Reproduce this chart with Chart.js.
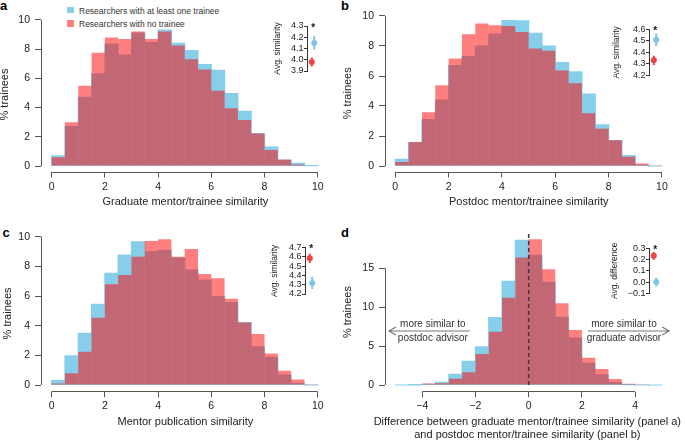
<!DOCTYPE html>
<html>
<head>
<meta charset="utf-8">
<script src="https://cdn.jsdelivr.net/npm/chart.js@4.4.1/dist/chart.umd.min.js"></script>
<style>
body { margin: 0; background: #fff; }
#wrap { position: relative; width: 685px; height: 442px; overflow: hidden; font-family: "Liberation Sans", Arial, sans-serif; }
#wrap canvas { position: absolute; }
.tag { position: absolute; font-weight: bold; font-size: 13px; line-height: 13px; color: #000; }
.sw { position: absolute; left: 67px; width: 7px; height: 6.5px; }
.key { position: absolute; left: 79px; font-size: 8.5px; line-height: 10px; color: #333; white-space: nowrap; }
</style>
</head>
<body>
<div id="wrap">
  <div class="tag" style="left:0px;top:-1px">a</div>
  <div class="tag" style="left:341px;top:-1px">b</div>
  <div class="tag" style="left:2.5px;top:225.5px">c</div>
  <div class="tag" style="left:341px;top:226px">d</div>
  <div class="sw" style="top:6.5px;background:#87CEEB"></div>
  <div class="key" style="top:6.3px">Researchers with at least one trainee</div>
  <div class="sw" style="top:20px;background:rgba(255,0,0,0.5)"></div>
  <div class="key" style="top:19.3px">Researchers with no trainee</div>
</div>
<script>
// bin centres (bins are 0.5 wide)
const simBins = [0.25, 0.75, 1.25, 1.75, 2.25, 2.75, 3.25, 3.75, 4.25, 4.75,
                 5.25, 5.75, 6.25, 6.75, 7.25, 7.75, 8.25, 8.75, 9.25, 9.75];
const diffBins = [-4.75, -4.25, -3.75, -3.25, -2.75, -2.25, -1.75, -1.25, -0.75, -0.25,
                  0.25, 0.75, 1.25, 1.75, 2.25, 2.75, 3.25, 3.75, 4.25, 4.75];

// % trainees: researchers with at least one trainee / with no trainee
const gradWith    = [0.7, 2.7, 4.7, 6.3, 8.35, 7.6, 9.1, 8.45, 9.3, 8.4, 7.9, 6.95, 6.55, 4.95, 3.75, 2.22, 1.3, 0.38, 0.18, 0.03];
const gradWithout = [0.6, 3.0, 5.5, 7.75, 8.8, 8.7, 9.2, 8.7, 9.2, 8.25, 7.3, 6.6, 5.15, 3.95, 3.15, 2.22, 1.1, 0.45, 0.1, 0.0];
const postWith    = [0.45, 1.55, 3.1, 4.4, 6.7, 7.3, 8.0, 8.8, 9.7, 9.67, 8.85, 8.0, 6.9, 6.27, 4.8, 2.75, 1.7, 0.7, 0.04, 0.0];
const postWithout = [0.27, 1.6, 3.58, 5.38, 7.16, 8.78, 9.5, 9.38, 9.33, 8.93, 7.84, 7.69, 6.36, 5.51, 3.51, 2.49, 1.72, 0.62, 0.16, 0.02];
const pubWith     = [0.29, 1.96, 3.48, 5.44, 7.53, 8.76, 9.66, 8.97, 9.08, 8.56, 7.75, 7.08, 5.96, 5.55, 4.2, 2.58, 1.87, 0.67, 0.11, 0.0];
const pubWithout  = [0.11, 0.79, 2.25, 4.54, 6.79, 7.42, 8.65, 9.71, 9.82, 8.65, 9.17, 7.48, 7.19, 5.82, 4.22, 3.44, 2.13, 0.97, 0.38, 0.02];
const diffWith    = [0.0, 0.02, 0.1, 0.34, 1.37, 3.04, 4.89, 8.66, 13.33, 18.6, 16.67, 13.2, 8.7, 6.04, 2.79, 1.29, 0.3, 0.04, 0.0, 0.0];
const diffWithout = [0.0, 0.05, 0.2, 0.21, 0.81, 1.63, 3.99, 6.86, 11.23, 16.4, 18.73, 14.87, 10.5, 7.07, 3.51, 2.06, 0.77, 0.17, 0.02, 0.0];

// tick labels
const simTicks = [0, 2, 4, 6, 8, 10];
const pctTicks = [0, 2, 4, 6, 8, 10];
const diffTicks = [-4, -2, 0, 2, 4];
const diffPctTicks = [0, 5, 10, 15];

// inset averages [with trainee, no trainee] and error bar half-widths
const gradAvg = [4.15, 3.98],  gradErr = [0.06, 0.04];
const postAvg = [4.51, 4.33],  postErr = [0.055, 0.04];
const pubAvg  = [4.32, 4.585], pubErr  = [0.065, 0.05];
const diffAvg = [0.0, 0.233],  diffErr = [0.04, 0.035];
const gradAvgTicks = [3.9, 4.0, 4.1, 4.2, 4.3];
const postAvgTicks = [4.2, 4.3, 4.4, 4.5, 4.6];
const pubAvgTicks  = [4.2, 4.3, 4.4, 4.5, 4.6, 4.7];
const diffAvgTicks = [-0.1, 0.0, 0.1, 0.2, 0.3];

const BLUE = '#87CEEB';
const RED = 'rgba(255,0,0,0.5)';
const BLUE_DOT = '#7cc6e8';
const RED_DOT = '#f04444';
const AXIS = '#555';
const INK = '#222';

Chart.defaults.font.family = '"Liberation Sans", Arial, sans-serif';

const minus = v => String(v).replace('-', '\u2212');

// R style axes: line only from first to last tick
const rAxes = {
    id: 'rAxes',
    afterDraw(chart) {
        const {ctx, chartArea: a, scales: {x, y}} = chart;
        const by = Math.floor(a.bottom) + 0.5;
        const lx = Math.floor(a.left) + 0.5;
        ctx.save();
        ctx.strokeStyle = AXIS;
        ctx.lineWidth = 1;
        ctx.beginPath();
        ctx.moveTo(x.getPixelForValue(x.ticks[0].value), by);
        ctx.lineTo(x.getPixelForValue(x.ticks[x.ticks.length - 1].value), by);
        ctx.moveTo(lx, y.getPixelForValue(y.ticks[0].value));
        ctx.lineTo(lx, y.getPixelForValue(y.ticks[y.ticks.length - 1].value));
        ctx.stroke();
        ctx.restore();
    }
};

// panel d: zero line, arrows and two-line axis title
const diffNotes = {
    id: 'diffNotes',
    afterDatasetsDraw(chart) {
        const {ctx, chartArea: a, scales: {x, y}} = chart;
        ctx.save();
        ctx.setLineDash([4, 3]);
        ctx.strokeStyle = '#463238';
        ctx.lineWidth = 1.5;
        ctx.beginPath();
        ctx.moveTo(x.getPixelForValue(0), y.getPixelForValue(0));
        ctx.lineTo(x.getPixelForValue(0), a.top);
        ctx.stroke();
        ctx.restore();
    },
    afterDraw(chart) {
        const {ctx, scales: {x, y}} = chart;
        const notes = [
            {from: -2.22, to: -5.25, tx: -3.6, lines: ['more similar to', 'postdoc advisor']},
            {from: 2.23, to: 5.28, tx: 3.58, lines: ['more similar to', 'graduate advisor']}
        ];
        const ay = y.getPixelForValue(6.94);
        ctx.save();
        notes.forEach(n => {
            const x1 = x.getPixelForValue(n.from), x2 = x.getPixelForValue(n.to);
            const dir = x2 > x1 ? 1 : -1;
            ctx.strokeStyle = '#777';
            ctx.lineWidth = 1.2;
            ctx.beginPath();
            ctx.moveTo(x1, ay);
            ctx.lineTo(x2, ay);
            ctx.moveTo(x2 - dir * 7, ay - 4);
            ctx.lineTo(x2, ay);
            ctx.lineTo(x2 - dir * 7, ay + 4);
            ctx.stroke();
            ctx.fillStyle = '#333';
            ctx.font = '10px "Liberation Sans", Arial, sans-serif';
            ctx.textAlign = 'center';
            ctx.textBaseline = 'middle';
            ctx.fillText(n.lines[0], x.getPixelForValue(n.tx), y.getPixelForValue(7.84));
            ctx.fillText(n.lines[1], x.getPixelForValue(n.tx), y.getPixelForValue(6.0));
        });
        ctx.fillStyle = INK;
        ctx.font = '11px "Liberation Sans", Arial, sans-serif';
        const cx = x.getPixelForValue(-0.05);
        ctx.fillText('Difference between graduate mentor/trainee similarity (panel a)', cx, chart.height - 20.3);
        ctx.fillText('and postdoc mentor/trainee similarity (panel b)', cx, chart.height - 7);
        ctx.restore();
    }
};

// inset star
const star = {
    id: 'star',
    afterDraw(chart) {
        const {ctx, chartArea: a, scales: {x}} = chart;
        ctx.save();
        ctx.fillStyle = '#111';
        ctx.font = 'bold 10px "Liberation Sans", Arial, sans-serif';
        ctx.textAlign = 'center';
        ctx.textBaseline = 'top';
        ctx.fillText('*', x.getPixelForValue(0.38), a.top - 3);
        ctx.restore();
    }
};

function addCanvas(left, top, w, h) {
    const c = document.createElement('canvas');
    c.width = w;
    c.height = h;
    c.style.left = left + 'px';
    c.style.top = top + 'px';
    c.style.width = w + 'px';
    c.style.height = h + 'px';
    document.getElementById('wrap').appendChild(c);
    return c;
}

function makePanel(p, bins, withVals, withoutVals, xTicks, yTicks, extra) {
    const canvas = addCanvas(p.left, p.top, p.w, p.h);
    return new Chart(canvas, {
        type: 'bar',
        data: {
            datasets: [{
                label: 'Researchers with at least one trainee',
                data: bins.map((b, i) => ({x: b, y: withVals[i]})),
                backgroundColor: BLUE,
                grouped: false,
                order: 2,
                barPercentage: 1,
                categoryPercentage: 1,
                borderWidth: 0,
                inflateAmount: 0.6
            }, {
                label: 'Researchers with no trainee',
                data: bins.map((b, i) => ({x: b, y: withoutVals[i]})),
                backgroundColor: RED,
                grouped: false,
                order: 1,
                barPercentage: 1,
                categoryPercentage: 1,
                borderWidth: 0,
                inflateAmount: 0
            }]
        },
        options: {
            responsive: false,
            animation: false,
            layout: {padding: {top: p.padTop, right: p.padRight, left: 0, bottom: 0}},
            plugins: {legend: {display: false}, tooltip: {enabled: false}},
            scales: {
                x: {
                    type: 'linear',
                    offset: false,
                    min: p.xMin,
                    max: p.xMax,
                    afterBuildTicks: s => { s.ticks = xTicks.map(v => ({value: v})); },
                    afterFit: s => { s.height = p.xHeight; },
                    border: {display: false},
                    grid: {offset: false, drawOnChartArea: false, drawTicks: true, tickLength: 5.5, color: AXIS},
                    ticks: {font: {size: 10.5}, color: INK, padding: 3, maxRotation: 0, autoSkip: false, callback: minus},
                    title: {display: !!p.xTitle, text: p.xTitle, font: {size: 11}, color: INK, padding: {top: 0, bottom: p.xTitlePad}}
                },
                y: {
                    min: p.yMin,
                    max: p.yMax,
                    afterBuildTicks: s => { s.ticks = yTicks.map(v => ({value: v})); },
                    afterFit: s => { s.width = p.yWidth; },
                    border: {display: false},
                    grid: {drawOnChartArea: false, drawTicks: true, tickLength: 6, color: AXIS},
                    ticks: {font: {size: 10.5}, color: INK, padding: 5, autoSkip: false, callback: minus},
                    title: {display: true, text: '% trainees', font: {size: 11, lineHeight: 1}, color: INK, padding: {top: p.yTitlePad, bottom: 0}}
                }
            }
        },
        plugins: [rAxes].concat(extra || [])
    });
}

function makeInset(box, ticks, means, errs, title) {
    const left = box.axisX - 52;
    const top = Math.round(box.top - 10);
    const h = Math.round(box.bottom - box.top + 20);
    const canvas = addCanvas(left, top, 72, h);
    const xs = [0.45, 0.3];          // with trainee, no trainee
    const cols = [BLUE_DOT, RED_DOT];
    const datasets = [];
    [0, 1].forEach(i => {
        datasets.push({
            type: 'line',
            data: [{x: xs[i], y: means[i] - errs[i]}, {x: xs[i], y: means[i] + errs[i]}],
            borderColor: cols[i],
            borderWidth: 2,
            pointRadius: 0
        });
        datasets.push({
            type: 'scatter',
            data: [{x: xs[i], y: means[i]}],
            backgroundColor: cols[i],
            borderWidth: 0,
            pointRadius: 3
        });
    });
    return new Chart(canvas, {
        type: 'scatter',
        data: {datasets},
        options: {
            responsive: false,
            animation: false,
            layout: {padding: {top: box.top - top, bottom: top + h - box.bottom, left: 0, right: 2}},
            plugins: {legend: {display: false}, tooltip: {enabled: false}},
            scales: {
                x: {display: false, min: 0, max: 1},
                y: {
                    min: ticks[0],
                    max: ticks[ticks.length - 1],
                    afterBuildTicks: s => { s.ticks = ticks.map(v => ({value: v})); },
                    afterFit: s => { s.width = 52; },
                    border: {display: true, color: '#333', width: 1},
                    grid: {drawOnChartArea: false, drawTicks: true, tickLength: 3, color: '#333'},
                    ticks: {font: {size: 9}, color: INK, padding: 0.5, autoSkip: false,
                            callback: v => minus(Number(v).toFixed(1))},
                    title: {display: true, text: title, font: {size: 8.5, lineHeight: 1}, color: INK,
                            padding: {top: box.titleX - left - 4.25, bottom: 0}}
                }
            }
        },
        plugins: [star]
    });
}

makePanel({left: 0, top: 0, w: 340, h: 220, xMin: -0.4, xMax: 10.45, yMin: -0.41, yMax: 10.2,
           padTop: 17, padRight: 10.3, yWidth: 41, xHeight: 48, xTitlePad: 11.4, yTitlePad: -0.5,
           xTitle: 'Graduate mentor/trainee similarity'},
          simBins, gradWith, gradWithout, simTicks, pctTicks);
makePanel({left: 340, top: 0, w: 345, h: 220, xMin: -0.386, xMax: 10.4, yMin: -0.4, yMax: 10.1,
           padTop: 14.5, padRight: 12.4, yWidth: 45, xHeight: 48, xTitlePad: 11.4, yTitlePad: 2.5,
           xTitle: 'Postdoc mentor/trainee similarity'},
          simBins, postWith, postWithout, simTicks, pctTicks);
makePanel({left: 0, top: 220, w: 340, h: 222, xMin: -0.4, xMax: 10.45, yMin: -0.45, yMax: 10.1,
           padTop: 15.2, padRight: 10.3, yWidth: 41, xHeight: 50.3, xTitlePad: 13.1, yTitlePad: 2,
           xTitle: 'Mentor publication similarity'},
          simBins, pubWith, pubWithout, simTicks, pctTicks);
makePanel({left: 340, top: 220, w: 345, h: 222, xMin: -5.4, xMax: 5.35, yMin: -0.86, yMax: 19.6,
           padTop: 12.5, padRight: 14, yWidth: 45, xHeight: 50.3, xTitlePad: 0, yTitlePad: 2.5,
           xTitle: ''},
          diffBins, diffWith, diffWithout, diffTicks, diffPctTicks, [diffNotes]);

makeInset({axisX: 307, top: 26, bottom: 71, titleX: 278}, gradAvgTicks, gradAvg, gradErr, 'Avg. similarity');
makeInset({axisX: 649, top: 29.3, bottom: 75.3, titleX: 617}, postAvgTicks, postAvg, postErr, 'Avg. similarity');
makeInset({axisX: 305, top: 247.7, bottom: 294, titleX: 275}, pubAvgTicks, pubAvg, pubErr, 'Avg. similarity');
makeInset({axisX: 649, top: 248.3, bottom: 293.3, titleX: 615}, diffAvgTicks, diffAvg, diffErr, 'Avg. difference');
</script>
</body>
</html>
